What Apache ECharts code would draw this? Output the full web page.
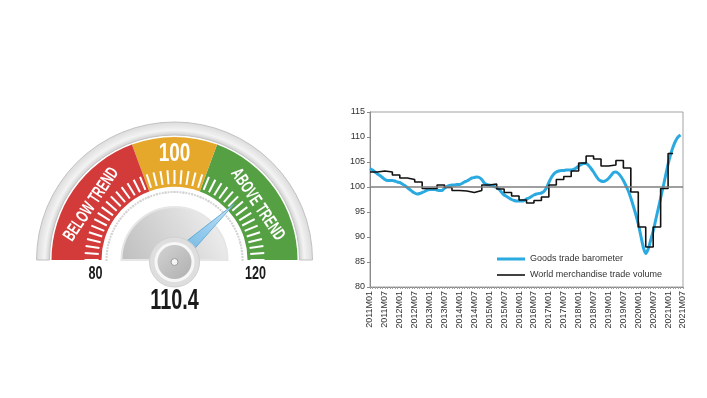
<!DOCTYPE html>
<html>
<head>
<meta charset="utf-8">
<script src="https://cdn.jsdelivr.net/npm/echarts@6/dist/echarts.min.js"></script>
<style>
    html, body { margin: 0; padding: 0; background: #fff; }
    #main { width: 707px; height: 398px; }
</style>
</head>
<body>
<div id="main"></div>
<script>
// gauge (left)
const gaugeValue = 110.4
const gaugeMin = 80
const gaugeMax = 120
const bandEnds = [95.5, 104.5, 120]
const bandColors = ['#d23b39', '#e5a82b', '#56a044']
const bandTexts = ['BELOW TREND', '100', 'ABOVE TREND']
const bandTextValues = [87.5, 100, 112.5]

// line chart (right)
const yMin = 80
const yMax = 115
const yStep = 5
const seriesNames = ['Goods trade barometer', 'World merchandise trade volume']
const seriesColors = ['#2ba9e1', '#111111']

// monthly, 2011M01 .. 2021M06
const barometer = [
    103.7, 103.4, 103.0, 102.6, 102.3, 101.9, 101.5, 101.3, 101.3, 101.3, 101.2, 101.0,
    100.9, 100.6, 100.3, 99.9, 99.5, 99.1, 98.8, 98.6, 98.7, 98.9, 99.1, 99.4,
    99.5, 99.5, 99.5, 99.4, 99.3, 99.3, 99.8, 100.1, 100.3, 100.4, 100.4, 100.5,
    100.5, 100.7, 101.0, 101.2, 101.5, 101.8, 101.9, 102.0, 101.9, 101.5, 100.8, 100.5,
    100.4, 100.3, 100.1, 99.9, 99.5, 98.9, 98.4, 98.1, 97.8, 97.5, 97.3, 97.2,
    97.2, 97.2, 97.3, 97.6, 97.8, 98.1, 98.4, 98.6, 98.7, 98.8, 99.1, 99.8,
    100.9, 101.9, 102.6, 103.0, 103.2, 103.3, 103.3, 103.4, 103.4, 103.4, 103.5, 103.8,
    104.2, 104.5, 104.7, 104.7, 104.3, 103.7, 103.0, 102.2, 101.5, 101.2, 101.1, 101.3,
    101.7, 102.3, 102.9, 103.0, 102.7, 102.1, 101.3, 100.3, 99.2, 97.8, 96.2, 94.5,
    92.6, 90.3, 88.0, 86.7, 87.6, 89.4, 91.2, 93.4, 95.6, 97.8, 100.0, 102.3,
    104.6, 106.5, 108.0, 109.2, 110.0, 110.4,
]

// quarterly, 2011Q1 .. 2021Q1
const tradeVolume = [
    103.0, 103.2, 103.0, 102.4,
    101.8, 101.5, 101.0, 99.7,
    99.7, 100.4, 99.9, 99.3,
    99.2, 98.9, 99.3, 100.4,
    100.6, 99.6, 98.9, 98.2,
    97.4, 96.8, 97.3, 98.0,
    100.4, 101.5, 102.1, 103.2,
    104.8, 106.2, 105.6, 104.2,
    104.4, 105.3, 103.8, 99.0,
    92.0, 88.0, 92.0, 99.7,
    106.7,
]

const months = []
for (let y = 2011; y <= 2021; y++) {
    for (let m = 1; m <= 12; m++) {
        if (y === 2021 && m > 7) break
        months.push(y + 'M' + String(m).padStart(2, '0'))
    }
}

// each quarter holds its value for three months
const volumeData = tradeVolume.map((v, q) => [months[q * 3], v])
volumeData.push([months[tradeVolume.length * 3 - 1], tradeVolume[tradeVolume.length - 1]])

const C = [174.5, 260]
const span = gaugeMax - gaugeMin
const angleOf = v => Math.PI * (1 - (v - gaugeMin) / span)
const polar = (v, r) => [C[0] + r * Math.cos(angleOf(v)), C[1] - r * Math.sin(angleOf(v))]

const bandStops = bandEnds.map((v, i) => [(v - gaugeMin) / span, bandColors[i]])

const textFont = 'Liberation Sans'
const bandLabelSize = [18, 25, 18]
const bandLabelR = [100, 106, 100]
const bandLabelScale = [0.63, 0.76, 0.63]

// legend icon: a plain stroke, no marker
const lineIcon = w => 'path://M0,0 M0,' + (5 - w / 2) + ' L28,' + (5 - w / 2) + ' L28,' + (5 + w / 2) + ' L0,' + (5 + w / 2) + ' Z M28,10'

const graphics = [
    {
        type: 'sector',
        z: 1,
        shape: { cx: C[0], cy: C[1], r0: 125, r: 138, startAngle: Math.PI, endAngle: Math.PI * 2 },
        style: {
            fill: new echarts.graphic.RadialGradient(C[0], C[1], 138, [
                { offset: 0.9, color: '#cccccc' },
                { offset: 0.94, color: '#f3f3f3' },
                { offset: 1, color: '#dcdcdc' },
            ], true),
            stroke: '#c2c2c2',
            lineWidth: 1,
        },
    },
    {
        type: 'sector',
        z: 1,
        shape: { cx: C[0], cy: C[1], r0: 0, r: 53, startAngle: Math.PI, endAngle: Math.PI * 2 },
        style: {
            fill: new echarts.graphic.LinearGradient(C[0] - 50, C[1], C[0] + 45, C[1] - 55, [
                { offset: 0, color: '#c0c0c0' },
                { offset: 0.6, color: '#dcdcdc' },
                { offset: 1, color: '#f2f2f2' },
            ], true),
            stroke: '#e6e6e6',
            lineWidth: 2,
        },
    },
    { type: 'circle', z: 10, shape: { cx: C[0], cy: C[1] + 2, r: 25 }, style: { fill: '#dedede', stroke: '#d0d0d0', lineWidth: 1 } },
    { type: 'circle', z: 10, shape: { cx: C[0], cy: C[1] + 2, r: 20 }, style: { fill: '#f7f7f7' } },
    {
        type: 'circle',
        z: 10,
        shape: { cx: C[0], cy: C[1] + 2, r: 17 },
        style: {
            fill: new echarts.graphic.LinearGradient(0, 0, 1, 1, [
                { offset: 0, color: '#d2d2d2' },
                { offset: 1, color: '#b0b0b0' },
            ]),
        },
    },
    { type: 'circle', z: 10, shape: { cx: C[0], cy: C[1] + 2, r: 3.5 }, style: { fill: '#f4f4f4', stroke: '#9c9c9c', lineWidth: 1 } },
]

bandTexts.forEach((t, i) => {
    const p = polar(bandTextValues[i], bandLabelR[i])
    graphics.push({
        type: 'text',
        z: 10,
        x: p[0],
        y: p[1],
        rotation: angleOf(bandTextValues[i]) - Math.PI / 2,
        scaleX: bandLabelScale[i],
        style: {
            text: t,
            fill: '#fff',
            fontFamily: textFont,
            fontWeight: 'bold',
            fontSize: bandLabelSize[i],
            align: 'center',
            verticalAlign: 'middle',
        },
    })
})

const endLabels = [[gaugeMin, 79], [gaugeMax, 81]]
endLabels.forEach(([v, r]) => {
    const p = polar(v, r)
    graphics.push({
        type: 'text',
        z: 10,
        x: p[0],
        y: p[1] + 14,
        scaleX: 0.7,
        style: { text: String(v), fill: '#1b1b1b', fontFamily: textFont, fontWeight: 'bold', fontSize: 18, align: 'center', verticalAlign: 'middle' },
    })
})

graphics.push({
    type: 'text',
    z: 10,
    x: C[0],
    y: C[1] + 41,
    scaleX: 0.66,
    style: { text: String(gaugeValue), fill: '#1b1b1b', fontFamily: textFont, fontWeight: 'bold', fontSize: 30, align: 'center', verticalAlign: 'middle' },
})

let option = {
    animation: false,
    backgroundColor: '#fff',
    textStyle: { fontFamily: textFont },
    graphic: { elements: graphics },
    legend: {
        orient: 'vertical',
        left: 497,
        top: 254,
        padding: 0,
        itemWidth: 28,
        itemHeight: 10,
        itemGap: 6,
        data: [
            { name: seriesNames[0], icon: lineIcon(3) },
            { name: seriesNames[1], icon: lineIcon(1.6) },
        ],
        textStyle: { fontSize: 9, color: '#333', fontFamily: textFont },
    },
    grid: {
        left: 370,
        right: 24,
        top: 112,
        bottom: 111,
        show: true,
        borderColor: '#a3a3a3',
        borderWidth: 1,
    },
    xAxis: {
        type: 'category',
        data: months,
        boundaryGap: false,
        axisLine: { lineStyle: { color: '#8a8a8a' } },
        axisTick: { interval: 0, length: 2, lineStyle: { color: '#a0a0a0' } },
        axisLabel: {
            interval: i => i % 6 === 0,
            rotate: 90,
            fontSize: 9,
            color: '#333',
            margin: 4,
        },
    },
    yAxis: {
        type: 'value',
        min: yMin,
        max: yMax,
        interval: yStep,
        axisLine: { show: true, lineStyle: { color: '#8a8a8a' } },
        axisTick: { show: true, length: 3, lineStyle: { color: '#8a8a8a' } },
        splitLine: { show: false },
        axisLabel: { fontSize: 9, color: '#333', margin: 5 },
    },
    series: [
        {
            type: 'gauge',
            center: C,
            radius: 69,
            startAngle: 180,
            endAngle: 0,
            min: gaugeMin,
            max: gaugeMax,
            splitNumber: 24,
            axisLine: { show: false, lineStyle: { width: 0 } },
            axisTick: { show: true, splitNumber: 3, distance: 0, length: 2, lineStyle: { color: '#d4d4d4', width: 2 } },
            splitLine: { show: false },
            axisLabel: { show: false },
            pointer: { show: false },
            anchor: { show: false },
            title: { show: false },
            detail: { show: false },
            data: [{ value: gaugeValue }],
            z: 2,
        },
        {
            type: 'gauge',
            center: C,
            radius: 123,
            startAngle: 180,
            endAngle: 0,
            min: gaugeMin,
            max: gaugeMax,
            splitNumber: 40,
            axisLine: { lineStyle: { width: 50, color: bandStops } },
            splitLine: { show: true, distance: -17, length: 14, lineStyle: { color: '#fff', width: 2 } },
            axisTick: { show: false },
            axisLabel: { show: false },
            pointer: {
                show: true,
                length: 82,
                width: 7.5,
                itemStyle: {
                    color: new echarts.graphic.LinearGradient(0, 0, 1, 1, [
                        { offset: 0, color: '#c4e4f7' },
                        { offset: 0.5, color: '#8cc7ec' },
                        { offset: 1, color: '#5e98be' },
                    ]),
                    borderColor: '#5fa5d2',
                    borderWidth: 0.8,
                },
            },
            anchor: { show: false },
            title: { show: false },
            detail: { show: false },
            data: [{ value: gaugeValue }],
            z: 3,
        },
        {
            name: seriesNames[0],
            type: 'line',
            data: barometer,
            smooth: 0.3,
            symbol: 'none',
            lineStyle: { width: 3, color: seriesColors[0] },
            itemStyle: { color: seriesColors[0] },
            markLine: {
                silent: true,
                symbol: ['none', 'none'],
                label: { show: false },
                lineStyle: { color: '#7f7f7f', width: 1.5, type: 'solid' },
                data: [{ yAxis: 100 }],
            },
            z: 2,
        },
        {
            name: seriesNames[1],
            type: 'line',
            data: volumeData,
            step: 'end',
            symbol: 'none',
            lineStyle: { width: 1.6, color: seriesColors[1] },
            itemStyle: { color: seriesColors[1] },
            z: 3,
        },
    ],
}

let myChart = echarts.init(document.getElementById('main'))
myChart.setOption(option, true)
</script>
</body>
</html>
